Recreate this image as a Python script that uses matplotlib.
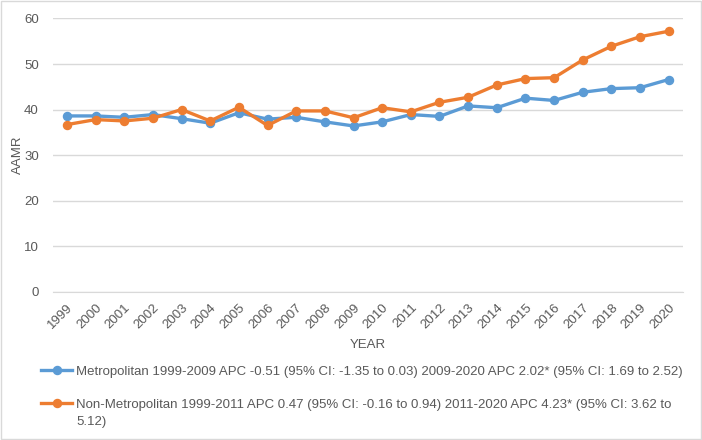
import numpy as np
import matplotlib.pyplot as plt
from matplotlib.lines import Line2D
from matplotlib.patches import Rectangle

years = [str(y) for y in range(1999, 2021)]
metro = [38.6, 38.6, 38.3, 38.9, 38.0, 37.0, 39.3, 37.9, 38.3, 37.3, 36.4,
         37.3, 38.9, 38.5, 40.8, 40.4, 42.5, 42.0, 43.8, 44.6, 44.8, 46.6]
nonmetro = [36.7, 37.8, 37.5, 38.1, 40.0, 37.5, 40.5, 36.5, 39.7, 39.7, 38.2,
            40.4, 39.5, 41.6, 42.7, 45.4, 46.8, 47.0, 50.9, 53.9, 56.0, 57.2]
metro_label = "Metropolitan 1999-2009 APC -0.51 (95% CI: -1.35 to 0.03) 2009-2020 APC 2.02* (95% CI: 1.69 to 2.52)"
nonmetro_label = "Non-Metropolitan 1999-2011 APC 0.47 (95% CI: -0.16 to 0.94) 2011-2020 APC 4.23* (95% CI: 3.62 to"
nonmetro_label_2 = "5.12)"

blue = "#5B9BD5"
orange = "#ED7D31"
grey_text = "#595959"
grid = "#D9D9D9"

plt.rcParams['font.family'] = ['Liberation Sans', 'DejaVu Sans']

fig = plt.figure(figsize=(7.02, 4.4), dpi=100)
ax = fig.add_axes([0.075, 0.337, 0.898, 0.621])

x = np.arange(len(years))
ax.plot(x, metro, color=blue, lw=2.4, marker='o', ms=5.8)
ax.plot(x, nonmetro, color=orange, lw=2.4, marker='o', ms=5.8)

ax.set_xlim(-0.5, len(years) - 0.5)
ax.set_ylim(0, 60)
ax.set_yticks(range(0, 61, 10))
ax.set_xticks(x)
ax.set_xticklabels(years, rotation=45, ha='right', rotation_mode='anchor')
ax.tick_params(axis='both', length=0, colors=grey_text, labelsize=9.5)
ax.tick_params(axis='x', pad=7)
ax.tick_params(axis='y', pad=10)
ax.grid(axis='y', color=grid, lw=1)
ax.set_axisbelow(True)
for s in ['top', 'right', 'left']:
    ax.spines[s].set_visible(False)
ax.spines['bottom'].set_color(grid)

ax.set_ylabel("AAMR", color=grey_text, fontsize=9.5, labelpad=0)
ax.set_xlabel("YEAR", color=grey_text, fontsize=9.5, labelpad=6)

# legend below the plot, two blocks so the wrapped line sits under the text
leg_kw = dict(loc='upper left', frameon=False, fontsize=9.5, handlelength=2.4,
              handletextpad=0.3, labelspacing=0.38, borderpad=0, borderaxespad=0)
h_metro = Line2D([], [], color=blue, lw=2.4, marker='o', ms=5.8)
h_non = Line2D([], [], color=orange, lw=2.4, marker='o', ms=5.8)
h_none = Line2D([], [], color='none', lw=0)
leg1 = fig.legend([h_metro], [metro_label], bbox_to_anchor=(0.058, 0.169), **leg_kw)
leg2 = fig.legend([h_non, h_none], [nonmetro_label, nonmetro_label_2],
                  bbox_to_anchor=(0.058, 0.094), **leg_kw)
for leg in (leg1, leg2):
    for t in leg.get_texts():
        t.set_color(grey_text)

fig.patches.append(Rectangle((0.002, 0.002), 0.996, 0.996, transform=fig.transFigure,
                             fill=False, edgecolor=grid, lw=1))

fig.savefig("out.png", dpi=100)
